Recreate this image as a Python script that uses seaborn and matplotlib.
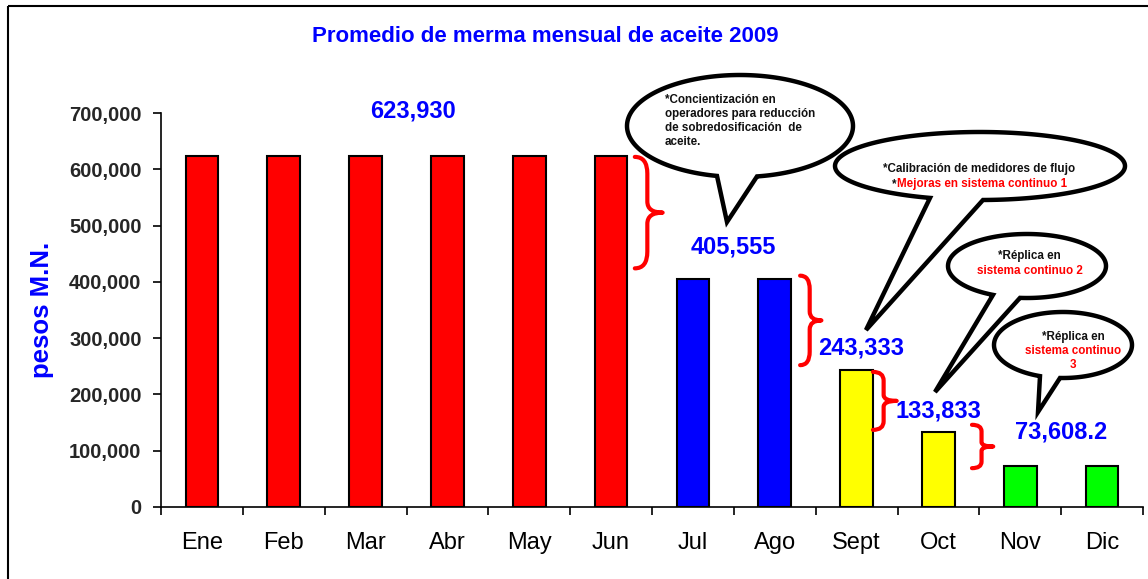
import numpy as np
import pandas as pd
import matplotlib
matplotlib.use("Agg")
import matplotlib.pyplot as plt
import seaborn as sns
from matplotlib.path import Path
from matplotlib.patches import PathPatch, Polygon, Rectangle
from matplotlib.ticker import FuncFormatter, FixedLocator

# ---- data ----
meses = ["Ene", "Feb", "Mar", "Abr", "May", "Jun",
         "Jul", "Ago", "Sept", "Oct", "Nov", "Dic"]
merma = [623930, 623930, 623930, 623930, 623930, 623930,
         405555, 405555, 243333, 133833, 73608.2, 73608.2]
colores = ["#FF0000"] * 6 + ["#0000FF"] * 2 + ["#FFFF00"] * 2 + ["#00FF00"] * 2
etiquetas = ["623,930", "405,555", "243,333", "133,833", "73,608.2"]
etiqueta_valor = [623930, 405555, 243333, 133833, 73608.2]
yticks = [0, 100000, 200000, 300000, 400000, 500000, 600000, 700000]

titulo = "Promedio de merma mensual de aceite 2009"
ylabel = "pesos M.N."

sns.set_theme(style="white")
plt.rcParams["font.family"] = ["Liberation Sans", "DejaVu Sans"]

W, H = 1148, 579
fig = plt.figure(figsize=(W / 100, H / 100), dpi=100)
fig.patch.set_facecolor("white")

ax = fig.add_axes([161 / W, (H - 507) / H, (1143 - 161) / W, (507 - 113) / H])
df = pd.DataFrame({"mes": meses, "merma": merma})
sns.barplot(data=df, x="mes", y="merma", hue="mes", palette=colores,
            legend=False, width=0.4, edgecolor="black", linewidth=1.5,
            saturation=1, ax=ax)

ax.set_xlim(-0.5, len(meses) - 0.5)
ax.set_ylim(0, 700000)
ax.set_yticks(yticks)
ax.yaxis.set_major_formatter(FuncFormatter(lambda v, p: f"{int(v):,}"))
ax.tick_params(axis="y", direction="out", length=6, width=1.2, color="black",
               pad=8, labelsize=14.5, left=True)
for t in ax.get_yticklabels():
    t.set_fontweight("bold")
ax.tick_params(axis="x", length=0, pad=18, labelsize=17, labelcolor="black")
ax.xaxis.set_minor_locator(FixedLocator(np.arange(-0.5, len(meses), 1.0)))
ax.tick_params(axis="x", which="minor", direction="out", length=6, width=1.2,
               color="black", bottom=True)
ax.set_xlabel("")
ax.set_ylabel(ylabel, color="#0000FF", fontsize=18.5, fontweight="bold", labelpad=0)
ax.yaxis.set_label_coords(-(161 - 54) / (1143 - 161), (507 - 310) / (507 - 113))
for s in ["top", "right"]:
    ax.spines[s].set_visible(False)
for s in ["left", "bottom"]:
    ax.spines[s].set_color("black")
    ax.spines[s].set_linewidth(1.2)
ax.set_facecolor("white")
ax.grid(False)

# value labels
pos_etiquetas = [(2.58, 703000), (6.49, 462000), (8.05, 282000),
                 (9.0, 170000), (10.5, 133000)]
for txt, (xp, yp) in zip(etiquetas, pos_etiquetas):
    ax.text(xp, yp, txt, color="#0000FF", fontsize=17, fontweight="bold",
            ha="center", va="center", clip_on=False, zorder=6)


def llave(ax, x0, x1, ytop, ybot, color="#FF0000", lw=3):
    """Curly brace '}' with its point facing right."""
    h = ytop - ybot
    ym = (ytop + ybot) / 2
    xv = x0 + 0.45 * (x1 - x0)
    verts = [(x0, ytop), (xv, ytop), (xv, ytop - 0.15 * h),
             (xv, ym + 0.1 * h),
             (xv, ym), (x1, ym),
             (xv, ym), (xv, ym - 0.1 * h),
             (xv, ybot + 0.15 * h),
             (xv, ybot), (x0, ybot)]
    codes = [Path.MOVETO, Path.CURVE3, Path.CURVE3, Path.LINETO,
             Path.CURVE3, Path.CURVE3, Path.CURVE3, Path.CURVE3,
             Path.LINETO, Path.CURVE3, Path.CURVE3]
    ax.add_patch(PathPatch(Path(verts, codes), fill=False, edgecolor=color,
                           lw=lw, capstyle="round", joinstyle="round",
                           clip_on=False, zorder=5))


llave(ax, 5.29, 5.63, 622000, 424000)
llave(ax, 7.31, 7.57, 411000, 252000)
llave(ax, 8.20, 8.49, 240000, 137000)
llave(ax, 9.41, 9.67, 146000, 69000)

# overlay in pixel coordinates for the speech bubbles and frame
ov = fig.add_axes([0, 0, 1, 1], zorder=10)
ov.set_xlim(0, W)
ov.set_ylim(H, 0)
ov.axis("off")
ov.patch.set_alpha(0)

ov.add_patch(Rectangle((8, 6), 1160, 600, fill=False, edgecolor="black",
                       lw=1.5, clip_on=False))
ov.text(545, 36, titulo, color="#0000FF", fontsize=16, fontweight="bold",
        ha="center", va="center")


def globo(ov, cx, cy, w, h, xl, xr, tip, lw=3.2):
    a, b = w / 2, h / 2
    tl = np.arccos(np.clip((xl - cx) / a, -1, 1))
    tr = np.arccos(np.clip((xr - cx) / a, -1, 1))
    t = np.linspace(tl, tr + 2 * np.pi, 300)
    pts = np.column_stack([cx + a * np.cos(t), cy + b * np.sin(t)])
    pts = np.vstack([pts, tip])
    ov.add_patch(Polygon(pts, closed=True, facecolor="white", edgecolor="black",
                         lw=lw, joinstyle="miter"))


globo(ov, 740, 126, 226, 102, 717, 757, (727, 222))
globo(ov, 980, 166, 290, 68, 930, 983, (866, 330))
globo(ov, 1027, 266, 158, 64, 993, 1020, (935, 392))
globo(ov, 1063, 345, 138, 66, 1040, 1060, (1038, 412))

fs = 8.4
negro = "#111111"
lineas1 = ["*Concientización en", "operadores para reducción",
           "de sobredosificación  de", "aceite."]
for i, l in enumerate(lineas1):
    ov.text(665, 100 + i * 14, l, fontsize=fs, fontweight="bold", color=negro,
            ha="left", va="center")

ov.text(979, 169, "*Calibración de medidores de flujo", fontsize=fs,
        fontweight="bold", color=negro, ha="center", va="center")
rojo = ov.text(982, 184, "Mejoras en sistema continuo 1", fontsize=fs,
               fontweight="bold", color="#FF0000", ha="center", va="center")
ov.annotate("*", xy=(0, 0.5), xycoords=rojo, fontsize=fs, fontweight="bold",
            color=negro, ha="right", va="center")

ov.text(1029, 256, "*Réplica en", fontsize=fs, fontweight="bold",
        color=negro, ha="center", va="center")
ov.text(1030, 271, "sistema continuo 2", fontsize=fs, fontweight="bold",
        color="#FF0000", ha="center", va="center")

ov.text(1073, 337, "*Réplica en", fontsize=fs, fontweight="bold",
        color=negro, ha="center", va="center")
ov.text(1073, 351, "sistema continuo", fontsize=fs, fontweight="bold",
        color="#FF0000", ha="center", va="center")
ov.text(1073, 365, "3", fontsize=fs, fontweight="bold",
        color="#FF0000", ha="center", va="center")

fig.savefig("out.png", dpi=100, facecolor="white")
